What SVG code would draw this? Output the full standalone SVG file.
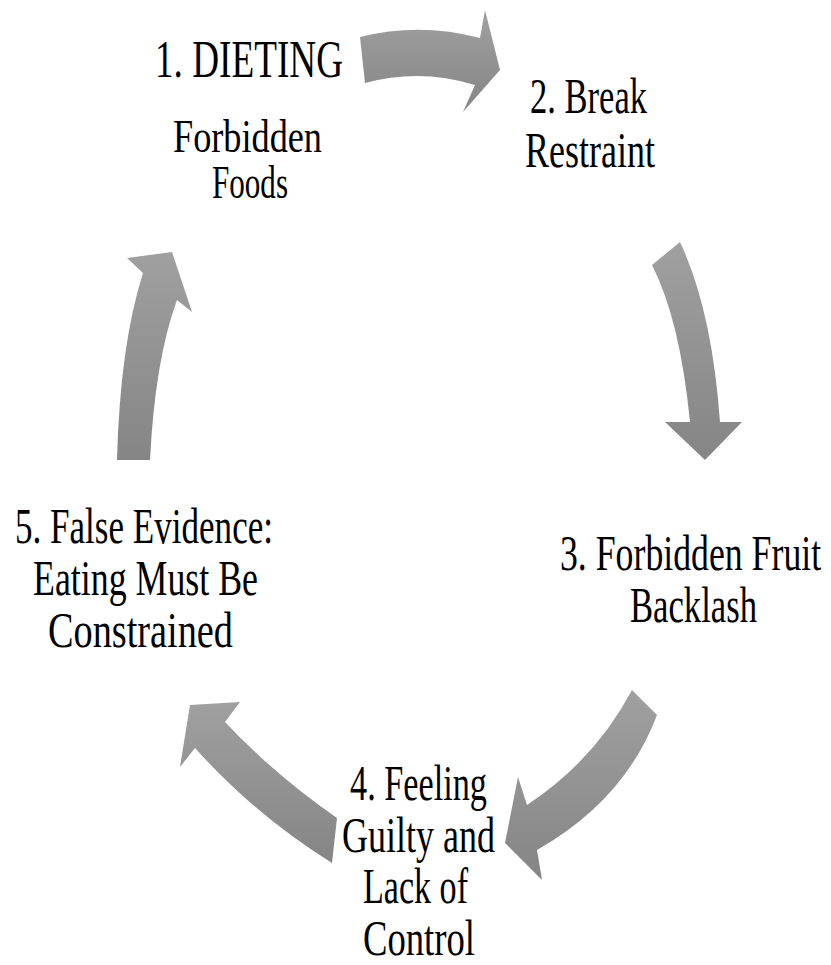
<svg xmlns="http://www.w3.org/2000/svg" width="831" height="965" viewBox="0 0 831 965">
<defs>
<linearGradient id="g" x1="0" y1="0" x2="0" y2="1">
<stop offset="0" stop-color="#a0a0a0"/>
<stop offset="1" stop-color="#858585"/>
</linearGradient>
</defs>
<style>
.t{font-family:"Liberation Serif","Times New Roman",serif;font-size:50px;fill:#000}
.a{fill:url(#g);stroke:none}
</style>
<rect width="831" height="965" fill="#fff"/>
<g id="connectors">
<path class="a" d="M360,37 Q420,22 480,38 L485,10 L500,70 L463,112 L475,85 Q420,68 365,83 Z"/>
<path class="a" d="M652,265 Q680,320 690,422 L665,422 L705,460 L742,422 L720,422 Q712,310 680,242 Z"/>
<path class="a" d="M632,690 Q595,760 527,805 L518,777 L505,843 L542,880 L537,850 Q625,800 657,715 Z"/>
<path class="a" d="M337,818 Q275,775 225,722 L240,702 L190,705 L180,767 L195,748 Q255,815 332,863 Z"/>
<path class="a" d="M117,460 Q120,345 143,273 L127,258 L172,252 L192,312 L177,300 Q155,360 150,460 Z"/>
</g>
<g id="node1">
<text class="t" x="155" y="77" style="font-size:52px" textLength="188" lengthAdjust="spacingAndGlyphs">1. DIETING</text>
<text class="t" x="173" y="152" style="font-size:46px" textLength="149" lengthAdjust="spacingAndGlyphs">Forbidden</text>
<text class="t" x="212" y="198" style="font-size:46px" textLength="76" lengthAdjust="spacingAndGlyphs">Foods</text>
</g>
<g id="node2">
<text class="t" x="530" y="113" textLength="117" lengthAdjust="spacingAndGlyphs">2. Break</text>
<text class="t" x="525" y="167" textLength="130" lengthAdjust="spacingAndGlyphs">Restraint</text>
</g>
<g id="node3">
<text class="t" transform="translate(560,570) scale(0.715,1)" x="0" y="0">3. Forbidden Fruit</text>
<text class="t" x="630" y="622" textLength="127" lengthAdjust="spacingAndGlyphs">Backlash</text>
</g>
<g id="node4">
<text class="t" x="350" y="800" textLength="137" lengthAdjust="spacingAndGlyphs">4. Feeling</text>
<text class="t" x="342" y="852" textLength="153" lengthAdjust="spacingAndGlyphs">Guilty and</text>
<text class="t" x="363" y="903" textLength="105" lengthAdjust="spacingAndGlyphs">Lack of</text>
<text class="t" x="363" y="955" textLength="112" lengthAdjust="spacingAndGlyphs">Control</text>
</g>
<g id="node5">
<text class="t" x="15" y="543" textLength="258" lengthAdjust="spacingAndGlyphs">5. False Evidence:</text>
<text class="t" x="33" y="595" textLength="225" lengthAdjust="spacingAndGlyphs">Eating Must Be</text>
<text class="t" x="48" y="647" textLength="185" lengthAdjust="spacingAndGlyphs">Constrained</text>
</g>
</svg>
